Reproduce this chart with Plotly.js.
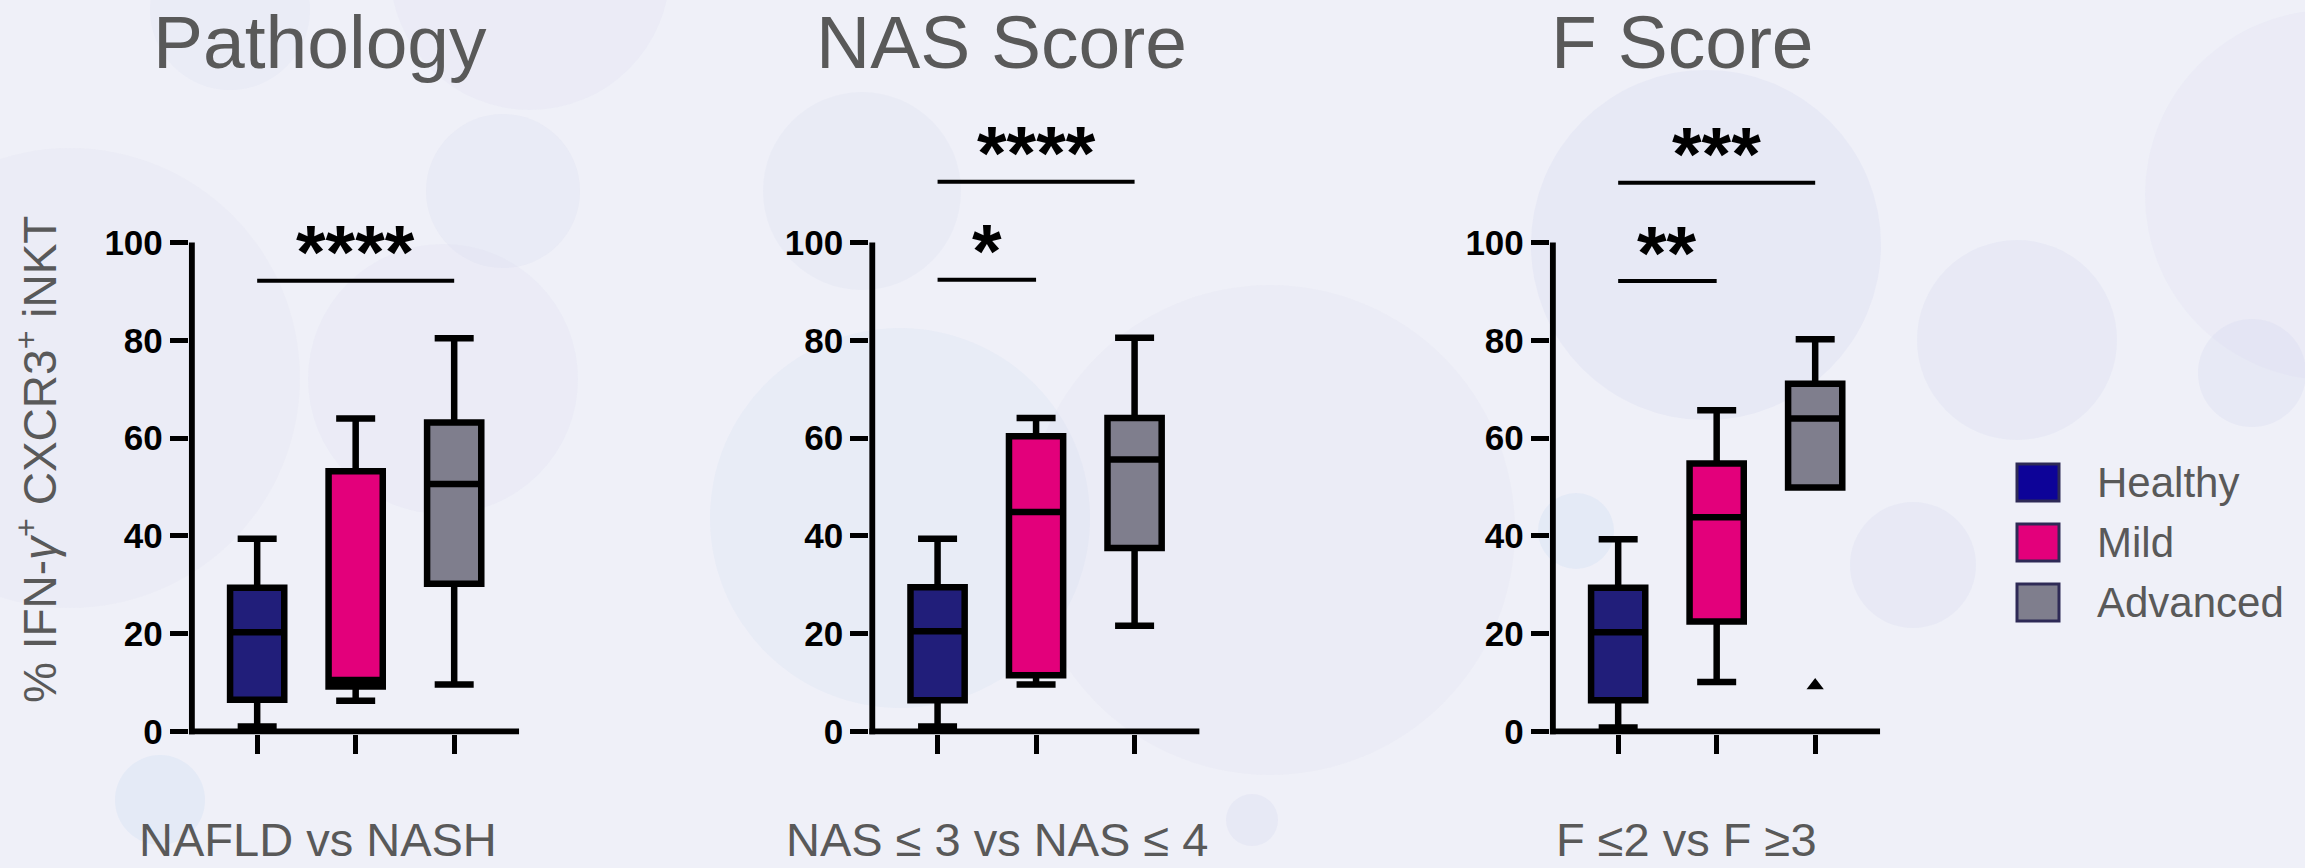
<!DOCTYPE html>
<html><head><meta charset="utf-8">
<script src="https://cdn.plot.ly/plotly-3.0.1.min.js"></script>
<style>html,body{margin:0;padding:0;background:#eff0f8;} #chart{width:2305px;height:868px;}</style>
</head><body><div id="chart"></div>
<script>
// ---------------- DATA ----------------
const groups = ['Healthy', 'Mild', 'Advanced'];
const panelTitles = ['Pathology', 'NAS Score', 'F Score'];
const panelLabels = ['NAFLD vs NASH', 'NAS ≤ 3 vs NAS ≤ 4', 'F ≤2 vs F ≥3'];
const yTickVals = [0, 20, 40, 60, 80, 100];

// box statistics: one row per panel, one entry per group (Healthy, Mild, Advanced)
const lowerFence = [[1.0, 6.3, 9.6], [1.0, 9.6, 21.6], [0.8, 10.1, 49.9]];
const q1         = [[6.5, 9.2, 30.2], [6.4, 11.5, 37.5], [6.4, 22.5, 49.9]];
const median     = [[20.3, 10.5, 50.6], [20.5, 44.9, 55.6], [20.3, 43.8, 64.0]];
const q3         = [[29.4, 53.2, 63.2], [29.5, 60.4, 64.1], [29.4, 54.8, 71.1]];
const upperFence = [[39.4, 64.0, 80.4], [39.4, 64.1, 80.5], [39.3, 65.7, 80.2]];

// outliers
const outlierPanel = [2];
const outlierGroup = ['Advanced'];
const outlierValue = [9.4];

// significance brackets
const sigPanel = [0, 1, 1, 2, 2];
const sigFrom  = [0, 0, 0, 0, 0];
const sigTo    = [2, 1, 2, 1, 2];
const sigLevel = [92.2, 92.4, 112.4, 92.1, 112.2];
const sigText  = ['****', '*', '****', '**', '***'];

// ---------------- STYLE ----------------
const FONT = 'Arial, "Liberation Sans", sans-serif';
const W = 2305, H = 868;
const boxFill = ['#211e7a', '#e3007b', '#7f7e8d'];
const legendFill = ['#0d0398', '#e3007b', '#7f7e8d'];
const domainsPx = [[188.8, 519.2], [869.2, 1199.6], [1549.8, 1880.2]];
const yDomain = [(H - 734.4) / H, (H - 95.8) / H];
const xRange = [-0.694, 2.66];
const yRange = [-0.6, 130];
const titleX = [0.633, 0.644, 0.658];
const labelX = [0.613, 0.613, 0.698];

const traces = [];
const shapes = [];
const annotations = [];
const layout = {
  width: W, height: H,
  margin: {l: 0, r: 0, t: 0, b: 0},
  paper_bgcolor: '#eff0f8',
  plot_bgcolor: 'rgba(0,0,0,0)',
  showlegend: false,
  font: {family: FONT},
};

// decorative background bubbles
function bubble(cx, cy, r, a, blue) {
  const c = blue ? '205,220,242' : '214,218,238';
  shapes.push({type: 'circle', xref: 'paper', yref: 'paper', layer: 'below',
    x0: (cx - r) / W, x1: (cx + r) / W, y0: 1 - (cy + r) / H, y1: 1 - (cy - r) / H,
    fillcolor: 'rgba(' + c + ',' + a + ')', line: {width: 0}});
}
bubble(70, 378, 230, 0.15);
bubble(900, 518, 190, 0.2, true);
bubble(1270, 530, 245, 0.15);
bubble(2330, 195, 185, 0.18);
bubble(1706, 245, 175, 0.32);
bubble(443, 379, 135, 0.18);
bubble(503, 191, 77, 0.25);
bubble(862, 191, 99, 0.22);
bubble(230, 10, 80, 0.2);
bubble(530, -30, 140, 0.18);
bubble(2017, 340, 100, 0.3);
bubble(2252, 373, 54, 0.32);
bubble(1913, 565, 63, 0.3);
bubble(1576, 531, 38, 0.32, true);
bubble(160, 800, 45, 0.32, true);
bubble(1252, 820, 26, 0.32);

for (let p = 0; p < 3; p++) {
  const sfx = p === 0 ? '' : String(p + 1);
  const xa = 'x' + sfx, ya = 'y' + sfx;
  layout['xaxis' + sfx] = {
    domain: [domainsPx[p][0] / W, domainsPx[p][1] / W], anchor: ya,
    type: 'category', categoryarray: groups, range: xRange,
    showline: false, showgrid: false, zeroline: false,
    ticks: 'outside', ticklen: 19, tickwidth: 5, tickcolor: '#000',
    showticklabels: false, fixedrange: true,
  };
  layout['yaxis' + sfx] = {
    domain: yDomain, anchor: xa, range: yRange,
    tickmode: 'array', tickvals: yTickVals,
    showline: false, showgrid: false, zeroline: false,
    ticks: 'outside', ticklen: 18, tickwidth: 5, tickcolor: '#000',
    tickfont: {family: FONT, size: 35, color: '#000', weight: 'bold'},
    fixedrange: true,
  };
  // axis lines
  shapes.push({type: 'line', xref: xa, yref: ya, x0: xRange[0] + 3 / 98.5, x1: xRange[0] + 3 / 98.5,
    y0: yRange[0], y1: 100, line: {color: '#000', width: 6}});
  shapes.push({type: 'line', xref: xa, yref: ya, x0: xRange[0], x1: xRange[1],
    y0: 0, y1: 0, line: {color: '#000', width: 6}});

  for (let g = 0; g < groups.length; g++) {
    traces.push({
      type: 'box', xaxis: xa, yaxis: ya,
      x: [groups[g]],
      q1: [q1[p][g]], median: [median[p][g]], q3: [q3[p][g]],
      lowerfence: [lowerFence[p][g]], upperfence: [upperFence[p][g]],
      fillcolor: boxFill[g], line: {color: '#000', width: 6.5},
      width: 0.55, whiskerwidth: 0.72, boxpoints: false,
      showlegend: false, hoverinfo: 'skip', name: groups[g],
    });
  }

  annotations.push({xref: xa, yref: 'paper', x: titleX[p], y: 1 - 42 / H,
    xanchor: 'center', yanchor: 'middle', showarrow: false, text: panelTitles[p],
    font: {family: FONT, size: 75, color: '#595959'}});
  annotations.push({xref: xa, yref: 'paper', x: labelX[p], y: 0,
    xanchor: 'center', yanchor: 'bottom', showarrow: false, text: panelLabels[p],
    font: {family: FONT, size: 47, color: '#595959'}});
}

// outliers
for (let i = 0; i < outlierValue.length; i++) {
  const sfx = outlierPanel[i] === 0 ? '' : String(outlierPanel[i] + 1);
  traces.push({type: 'scatter', mode: 'markers', xaxis: 'x' + sfx, yaxis: 'y' + sfx,
    x: [outlierGroup[i]], y: [outlierValue[i]], cliponaxis: false,
    marker: {symbol: 'triangle-up', size: 15, color: '#000'},
    showlegend: false, hoverinfo: 'skip'});
}

// significance brackets
for (let i = 0; i < sigText.length; i++) {
  const sfx = sigPanel[i] === 0 ? '' : String(sigPanel[i] + 1);
  shapes.push({type: 'line', xref: 'x' + sfx, yref: 'y' + sfx,
    x0: sigFrom[i], x1: sigTo[i], y0: sigLevel[i], y1: sigLevel[i],
    line: {color: '#000', width: 4}});
  annotations.push({xref: 'x' + sfx, yref: 'y' + sfx,
    x: (sigFrom[i] + sigTo[i]) / 2, y: sigLevel[i], yshift: 29,
    xanchor: 'center', yanchor: 'middle', showarrow: false, text: sigText[i],
    font: {family: FONT, size: 76, color: '#000', weight: 'bold'}});
}

// y-axis title
annotations.push({xref: 'paper', yref: 'paper', x: 37 / W, y: 1 - 460 / H,
  xanchor: 'center', yanchor: 'middle', showarrow: false, textangle: -90,
  text: '% IFN-<i>γ</i><sup>+</sup> CXCR3<sup>+</sup> iNKT',
  font: {family: FONT, size: 46, color: '#595959'}});

// legend
for (let g = 0; g < groups.length; g++) {
  const cy = 482.5 + 60 * g;
  shapes.push({type: 'rect', xref: 'paper', yref: 'paper',
    x0: 2017 / W, x1: 2059 / W, y0: 1 - (cy + 18.5) / H, y1: 1 - (cy - 18.5) / H,
    fillcolor: legendFill[g], line: {color: '#2e2a56', width: 3}});
  annotations.push({xref: 'paper', yref: 'paper', x: 2095 / W, y: 1 - cy / H,
    xanchor: 'left', yanchor: 'middle', showarrow: false, text: groups[g],
    font: {family: FONT, size: 42, color: '#595959'}});
}

layout.shapes = shapes;
layout.annotations = annotations;
Plotly.newPlot('chart', traces, layout, {displayModeBar: false, staticPlot: true});
</script>
</body></html>
